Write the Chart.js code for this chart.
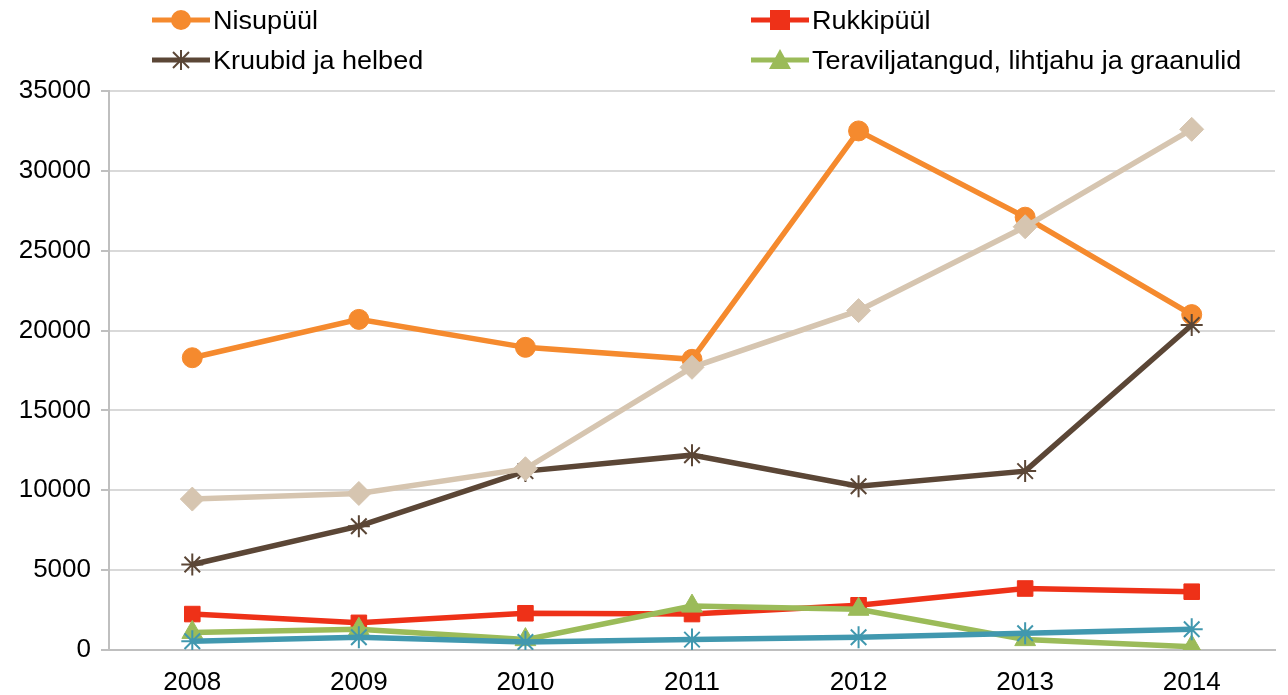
<!DOCTYPE html>
<html>
<head>
<meta charset="utf-8">
<script src="https://cdn.jsdelivr.net/npm/chart.js@4"></script>
<style>
  html, body { margin: 0; padding: 0; background: #fff; }
  #wrap { position: relative; width: 1288px; height: 695px; }
  #legend {
    position: absolute; left: 152px; top: 0;
    display: grid; grid-template-columns: 599px 520px; grid-auto-rows: 40px;
    font-family: "Liberation Sans", Arial, sans-serif; font-size: 25px; color: #000;
  }
  #legend .item { display: flex; align-items: center; }
  #legend svg { margin-right: 3px; flex: none; }
  #legend span { display: inline-block; transform: scaleX(1.08); transform-origin: left center; white-space: nowrap; }
</style>
</head>
<body>
<div id="wrap">
  <canvas id="chart" width="1288" height="695"></canvas>
  <div id="legend"></div>
</div>
<script>
const years = ['2008', '2009', '2010', '2011', '2012', '2013', '2014'];

const nisupyyl = [18300, 20700, 18950, 18200, 32500, 27100, 21000];
const rukkipyyl = [2250, 1700, 2300, 2250, 2800, 3850, 3650];
const kruubid = [5350, 7750, 11200, 12200, 10250, 11200, 20350];
const teravili = [1100, 1300, 650, 2750, 2550, 650, 200];
const series5 = [9450, 9800, 11350, 17700, 21250, 26500, 32600];
const series6 = [550, 800, 500, 650, 800, 1050, 1300];

const yTicks = [0, 5000, 10000, 15000, 20000, 25000, 30000, 35000];

function line(label, data, color, pointStyle, radius, order, inLegend) {
  return {
    label, data, order, inLegend,
    borderColor: color,
    backgroundColor: color,
    borderWidth: 5.5,
    pointStyle,
    pointRadius: radius,
    pointHoverRadius: radius,
    pointBorderColor: color,
    pointBackgroundColor: color,
    pointBorderWidth: (pointStyle === 'star') ? 2 : 1,
    tension: 0
  };
}

const datasets = [
  line('Nisupüül', nisupyyl, '#F58A2E', 'circle', 10, 6, true),
  line('Rukkipüül', rukkipyyl, '#EE3118', 'rect', 11, 5, true),
  line('Kruubid ja helbed', kruubid, '#5B4636', 'star', 11, 4, true),
  line('Teraviljatangud, lihtjahu ja graanulid', teravili, '#9BBB59', 'triangle', 12, 3, true),
  line('Muu 1', series5, '#D6C5B0', 'rectRot', 12, 2, false),
  line('Muu 2', series6, '#4198AF', 'star', 11, 1, false)
];

const tickFont = { family: 'Liberation Sans', size: 26 };

const chart = new Chart(document.getElementById('chart'), {
  type: 'line',
  data: { labels: years, datasets },
  options: {
    responsive: false,
    animation: false,
    layout: { padding: { top: 91, right: 9, left: 0, bottom: 0 } },
    plugins: { legend: { display: false }, tooltip: { enabled: false } },
    scales: {
      x: {
        offset: true,
        grid: { display: false, offset: true },
        border: { display: true, color: '#BFBFBF', width: 2 },
        ticks: { color: '#000', font: tickFont, padding: 9, maxRotation: 0 },
        afterFit: s => { s.height = 45; }
      },
      y: {
        min: 0,
        max: 35000,
        afterBuildTicks: s => { s.ticks = yTicks.map(v => ({ value: v })); },
        grid: { color: '#D9D9D9', lineWidth: 2, tickLength: 8, tickColor: '#BFBFBF' },
        border: { display: true, color: '#BFBFBF', width: 2 },
        ticks: { color: '#000', font: tickFont, padding: 10, callback: v => String(v) },
        afterFit: s => { s.width = 109; }
      }
    }
  }
});

// legend in two columns, as in the original
function markerSvg(ds) {
  const c = ds.borderColor;
  let m = '';
  if (ds.pointStyle === 'circle') m = `<circle cx="29" cy="12" r="10" fill="${c}"/>`;
  else if (ds.pointStyle === 'rect') m = `<rect x="19" y="2" width="20" height="20" fill="${c}"/>`;
  else if (ds.pointStyle === 'triangle') m = `<polygon points="29,1 40,21 18,21" fill="${c}"/>`;
  else if (ds.pointStyle === 'star') m = `<g stroke="${c}" stroke-width="2"><line x1="29" y1="2" x2="29" y2="22"/><line x1="21" y1="4" x2="37" y2="20"/><line x1="37" y1="4" x2="21" y2="20"/></g>`;
  return `<svg width="58" height="24"><line x1="0" y1="12" x2="58" y2="12" stroke="${c}" stroke-width="5"/>${m}</svg>`;
}

const legend = document.getElementById('legend');
datasets.filter(ds => ds.inLegend).forEach(ds => {
  const item = document.createElement('div');
  item.className = 'item';
  item.innerHTML = markerSvg(ds) + '<span>' + ds.label + '</span>';
  legend.appendChild(item);
});
</script>
</body>
</html>
